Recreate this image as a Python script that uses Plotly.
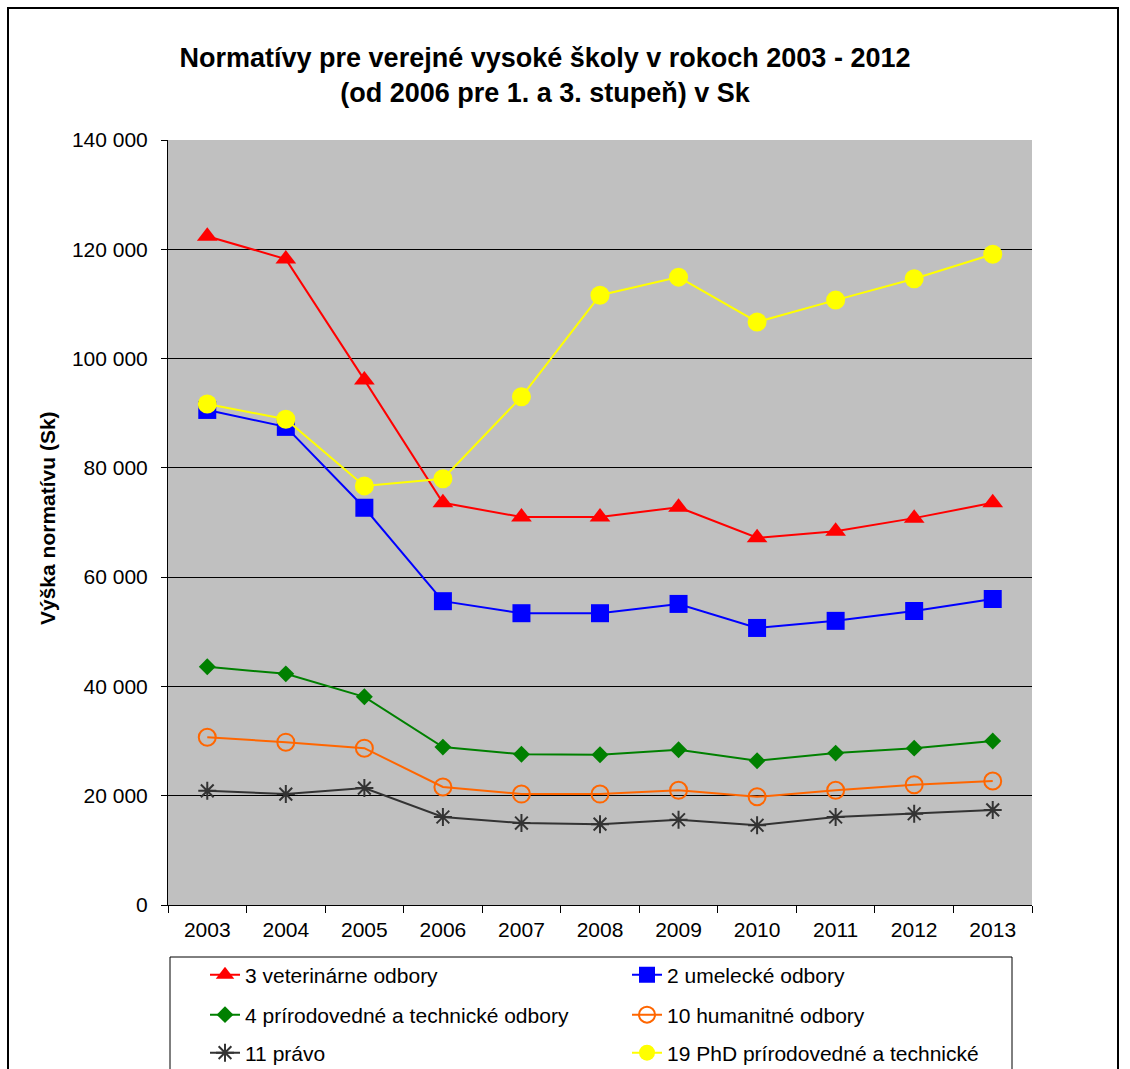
import plotly.graph_objects as go

years = ["2003", "2004", "2005", "2006", "2007", "2008", "2009", "2010", "2011", "2012", "2013"]

veterinarne = [122400, 118200, 96100, 73600, 71000, 71000, 72800, 67200, 68400, 70800, 73600]
umelecke = [90600, 87500, 72700, 55600, 53400, 53400, 55100, 50700, 52000, 53800, 56000]
prirodovedne = [43600, 42300, 38100, 28900, 27600, 27500, 28400, 26400, 27800, 28700, 30000]
humanitne = [30700, 29800, 28700, 21600, 20300, 20300, 21000, 19800, 21000, 22000, 22700]
pravo = [20900, 20300, 21400, 16100, 15000, 14800, 15600, 14600, 16100, 16700, 17400]
phd = [91700, 88900, 76700, 78000, 93000, 111600, 114900, 106700, 110700, 114600, 119100]

ytickvals = [0, 20000, 40000, 60000, 80000, 100000, 120000, 140000]
yticktext = ["0", "20 000", "40 000", "60 000", "80 000", "100 000", "120 000", "140 000"]

FONT = "Liberation Sans, Arial, sans-serif"

series = [
    ("3 veterinárne odbory", veterinarne, "#FF0000", dict(symbol="triangle-up", size=18), "legend"),
    ("2 umelecké odbory", umelecke, "#0000FF", dict(symbol="square", size=18), "legend"),
    ("4 prírodovedné a technické odbory", prirodovedne, "#008000", dict(symbol="diamond", size=13), "legend2"),
    ("10 humanitné odbory", humanitne, "#FF6600", dict(symbol="circle-open", size=17, line=dict(width=2, color="#FF6600")), "legend2"),
    ("11 právo", pravo, "#333333", dict(symbol="asterisk-open", size=15, line=dict(width=2, color="#333333")), "legend3"),
    ("19 PhD prírodovedné a technické", phd, "#FFFF00", dict(symbol="circle", size=19), "legend3"),
]

fig = go.Figure()
for name, vals, color, marker, leg in series:
    m = dict(color=color)
    m.update(marker)
    fig.add_trace(go.Scatter(
        x=years, y=vals, name=name, mode="lines+markers",
        line=dict(color=color, width=2), marker=m, legend=leg,
    ))

W, H = 1130, 1069
L, R, T, B = 168, 98, 140, 164
pw, ph = W - L - R, H - T - B

def px(xp):
    return (xp - L) / pw

def py(yp):
    return (H - B - yp) / ph

leg_common = dict(
    orientation="h", xanchor="left", yanchor="middle",
    font=dict(family=FONT, size=21, color="#000000"),
    bgcolor="rgba(0,0,0,0)", borderwidth=0,
    entrywidth=377, entrywidthmode="pixels", itemclick=False,
)

fig.update_layout(
    width=W, height=H,
    margin=dict(l=L, r=R, t=T, b=B, autoexpand=False),
    paper_bgcolor="#FFFFFF",
    plot_bgcolor="#C0C0C0",
    font=dict(family=FONT, size=21, color="#000000"),
    title=dict(
        text="<b>Normatívy pre verejné vysoké školy v rokoch 2003 - 2012<br>(od 2006 pre 1. a 3. stupeň) v Sk</b>",
        x=px(545), xref="paper", xanchor="center",
        y=1 - 67 / H, yref="container", yanchor="middle",
        font=dict(family=FONT, size=27, color="#000000"),
    ),
    xaxis=dict(
        type="category", range=[-0.5, 10.5], tickson="boundaries",
        ticks="outside", ticklen=7, ticklabelstandoff=6,
        tickcolor="#000000", showline=True, linecolor="#000000", linewidth=1,
        showgrid=False, tickfont=dict(size=21),
    ),
    yaxis=dict(
        range=[0, 140000], tickvals=ytickvals, ticktext=yticktext,
        ticks="outside", ticklen=6, tickcolor="#000000", ticklabelstandoff=9,
        showline=True, linecolor="#000000", linewidth=1,
        showgrid=True, gridcolor="#000000", gridwidth=1, zeroline=False,
        tickfont=dict(size=21),
    ),
    legend=dict(x=px(205), y=py(975), **leg_common),
    legend2=dict(x=px(205), y=py(1015), **leg_common),
    legend3=dict(x=px(205), y=py(1053), **leg_common),
    showlegend=True,
    annotations=[
        dict(
            text="<b>Výška normatívu (Sk)</b>", x=px(47), y=py(518),
            xref="paper", yref="paper", textangle=-90, showarrow=False,
            xanchor="center", yanchor="middle",
            font=dict(family=FONT, size=21, color="#000000"),
        )
    ],
    shapes=[
        dict(type="rect", xref="paper", yref="paper",
             x0=px(8), x1=px(1118), y0=py(1200), y1=py(8),
             line=dict(color="#000000", width=2), fillcolor="rgba(0,0,0,0)", layer="below"),
        dict(type="rect", xref="paper", yref="paper",
             x0=px(170), x1=px(1012), y0=py(1150), y1=py(957),
             line=dict(color="#000000", width=1), fillcolor="rgba(0,0,0,0)", layer="below"),
    ],
)

fig.write_html("out.html", config={"displayModeBar": False},
               post_script="document.body.style.margin='0px';")
